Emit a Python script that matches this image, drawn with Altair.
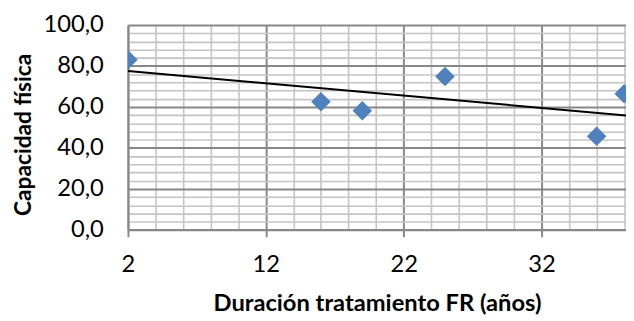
import altair as alt
import pandas as pd

# Data
duracion = [2, 16, 19, 25, 36, 38]
capacidad = [83.1, 62.5, 58.2, 74.9, 45.7, 66.5]

x_ticks = list(range(2, 39, 2))      # minor grid every 2, major every 10 from 2
y_ticks = list(range(0, 101, 4))     # minor grid every 4, major every 20

df = pd.DataFrame({"x": duracion, "y": capacidad})

FONT = "Lato"
MAJOR = "#888888"
MINOR = "#c4c4c4"

x_axis = alt.Axis(
    values=x_ticks, tickCount=200,
    title="Duración tratamiento FR (años)",
    titleFont=FONT, titleFontSize=24, titleFontWeight="bold", titleColor="#000000",
    titleY=81.5, titleBaseline="alphabetic",
    labelFont=FONT, labelFontSize=24, labelColor="#000000",
    labelExpr="(datum.value - 2) % 10 == 0 ? datum.label : ''",
    labelBaseline="alphabetic", labelPadding=35.5, labelFlush=False, labelOverlap=False,
    format="d",
    grid=True,
    gridColor=alt.condition("(datum.value - 2) % 10 == 0", alt.value(MAJOR), alt.value(MINOR)),
    gridWidth=alt.condition("(datum.value - 2) % 10 == 0", alt.value(2), alt.value(1.6)),
    ticks=True, tickSize=7, tickWidth=2, tickColor=MAJOR,
    tickOpacity=alt.condition("(datum.value - 2) % 10 == 0", alt.value(1), alt.value(0)),
    domain=True, domainColor=MAJOR, domainWidth=2,
)

y_axis = alt.Axis(
    values=y_ticks, tickCount=200,
    title="Capacidad física",
    titleFont=FONT, titleFontSize=23, titleFontWeight="bold", titleColor="#000000",
    titleX=-98.5, titleY=110.7, titleAngle=270, titleBaseline="alphabetic", titleAlign="center",
    labelFont=FONT, labelFontSize=24, labelColor="#000000",
    labelExpr="datum.value % 20 == 0 ? replace(format(datum.value, '.1f'), '.', ',') : ''",
    labelPadding=25, labelOverlap=False, labelFlush=False,
    grid=True,
    gridColor=alt.condition("datum.value % 20 == 0", alt.value(MAJOR), alt.value(MINOR)),
    gridWidth=alt.condition("datum.value % 20 == 0", alt.value(2), alt.value(1.6)),
    ticks=False,
    domain=True, domainColor=MAJOR, domainWidth=2,
)

x_enc = alt.X("x:Q", scale=alt.Scale(domain=[2, 38.13], nice=False, zero=False), axis=x_axis)
y_enc = alt.Y("y:Q", scale=alt.Scale(domain=[0, 100], nice=False), axis=y_axis)

base = alt.Chart(df)

points = base.mark_point(
    shape="diamond", filled=True, size=390, color="#4F81BD", opacity=1, clip=True
).encode(x=x_enc, y=y_enc)

trend = base.transform_regression(
    "x", "y", extent=[2, 38.13]
).mark_line(color="#000000", strokeWidth=2, clip=True).encode(x=x_enc, y=y_enc)

chart = alt.layer(points, trend).properties(
    width=504.5,
    height=207.4,
    autosize=alt.AutoSizeParams(type="none"),
    padding={"left": 121.5, "top": 15.3, "right": 0, "bottom": 85},
    background="#ffffff",
).configure_view(stroke=None)

chart.save("out.html", embed_options={"renderer": "svg", "actions": False})
